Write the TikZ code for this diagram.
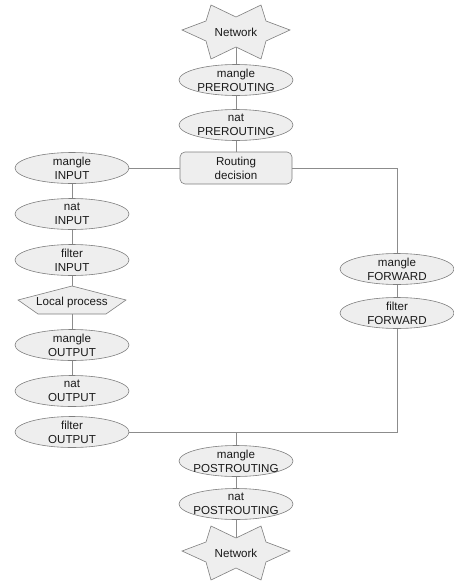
\documentclass[tikz,border=0pt]{standalone}
\usepackage{fontspec}
\setmainfont{Liberation Sans}
\usetikzlibrary{shapes.geometric}
\definecolor{fillc}{HTML}{EEEEEE}
\definecolor{strokec}{HTML}{7F7F7F}
\definecolor{linec}{HTML}{8C8C8C}
\definecolor{textc}{HTML}{1A1A1A}
\begin{document}
\begin{tikzpicture}[x=1pt,y=-1pt,
  every node/.style={font=\fontsize{11.6}{13.8}\selectfont, align=center, text=textc},
  ell/.style={ellipse, draw=strokec, fill=fillc, line width=0.6pt, minimum width=114pt, minimum height=31pt, inner sep=0pt},
  rbox/.style={rectangle, rounded corners=5pt, draw=strokec, fill=fillc, line width=0.6pt, minimum width=112pt, minimum height=32pt, inner sep=0pt},
  shp/.style={draw=strokec, fill=fillc, line width=0.6pt, line join=miter},
  conn/.style={draw=linec, line width=0.7pt}]
\useasboundingbox (0,0) rectangle (454,581);

% top network star
\draw[shp, shift={(236,32)}] (54,-2) -- (30,-11) -- (25,-27) -- (0,-15) -- (-25,-27) -- (-30,-11) -- (-54,-2) -- (-30,9) -- (-25,27) -- (0,15) -- (25,27) -- (30,9) -- cycle;
\node (neta) at (236,32) {Network};
\coordinate (netab) at (236,47);

% bottom network star
\draw[shp, shift={(236,553)}] (54,-2) -- (30,-11) -- (25,-27) -- (0,-15) -- (-25,-27) -- (-30,-11) -- (-54,-2) -- (-30,9) -- (-25,27) -- (0,15) -- (25,27) -- (30,9) -- cycle;
\node (netb) at (236,553) {Network};
\coordinate (netbt) at (236,538);

% centre column
\node[ell, label=center:{mangle\\PREROUTING}] (mpre) at (236,80) {};
\node[ell, label=center:{nat\\PREROUTING}] (npre) at (236,125) {};
\node[rbox] (route) at (236,168) {Routing\\decision};

% left column
\node[ell, label=center:{mangle\\INPUT}] (minp) at (72,168) {};
\node[ell, label=center:{nat\\INPUT}] (ninp) at (72,214) {};
\node[ell, label=center:{filter\\INPUT}] (finp) at (72,260) {};
\draw[shp, shift={(72,300)}] (0,-14) -- (54,0) -- (34,14) -- (-34,14) -- (-54,0) -- cycle;
\node (lp) at (72,302) {Local process};
\coordinate (lpt) at (72,286);
\coordinate (lpb) at (72,314);
\node[ell, label=center:{mangle\\OUTPUT}] (mout) at (72,345) {};
\node[ell, label=center:{nat\\OUTPUT}] (nout) at (72,391) {};
\node[ell, label=center:{filter\\OUTPUT}] (fout) at (72,432) {};

% right column
\node[ell, label=center:{mangle\\FORWARD}] (mfwd) at (397,269) {};
\node[ell, label=center:{filter\\FORWARD}] (ffwd) at (397,313) {};

% bottom
\node[ell, label=center:{mangle\\POSTROUTING}] (mpost) at (236,461) {};
\node[ell, label=center:{nat\\POSTROUTING}] (npost) at (236,504) {};
\coordinate (join) at (236,432);

% connectors
\draw[conn] (netab) -- (mpre);
\draw[conn] (mpre) -- (npre);
\draw[conn] (npre) -- (route);
\draw[conn] (route) -- (minp);
\draw[conn] (minp) -- (ninp);
\draw[conn] (ninp) -- (finp);
\draw[conn] (finp) -- (lpt);
\draw[conn] (lpb) -- (mout);
\draw[conn] (mout) -- (nout);
\draw[conn] (route.east) -| (mfwd.north);
\draw[conn] (mfwd) -- (ffwd);
\draw[conn] (ffwd.south) |- (fout.east);
\draw[conn] (join) -- (mpost);
\draw[conn] (mpost) -- (npost);
\draw[conn] (npost) -- (netbt);
\end{tikzpicture}
\end{document}
